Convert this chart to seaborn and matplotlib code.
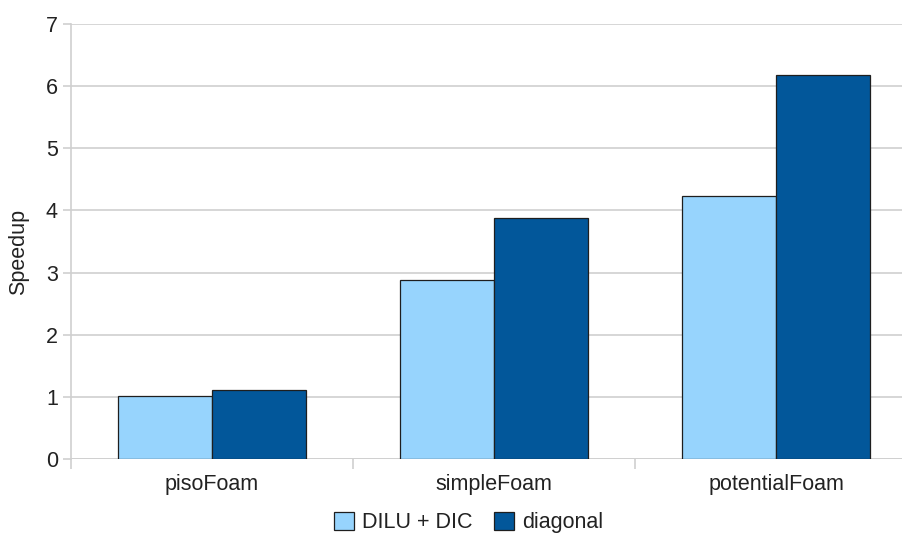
import matplotlib
matplotlib.use("Agg")
import matplotlib.pyplot as plt
from matplotlib.ticker import FixedLocator, NullFormatter
import seaborn as sns
import pandas as pd

solvers = ["pisoFoam", "simpleFoam", "potentialFoam"]
preconditioners = ["DILU + DIC", "diagonal"]
speedup_dilu_dic = [1.01, 2.88, 4.24]
speedup_diagonal = [1.11, 3.88, 6.18]
y_ticks = [0, 1, 2, 3, 4, 5, 6, 7]

df = pd.DataFrame({
    "solver": solvers * 2,
    "preconditioner": [preconditioners[0]] * 3 + [preconditioners[1]] * 3,
    "speedup": speedup_dilu_dic + speedup_diagonal,
})

sns.set_style("white")
plt.rcParams["font.family"] = ["Liberation Sans", "DejaVu Sans"]

fig = plt.figure(figsize=(9.02, 5.34), dpi=100)
ax = fig.add_axes([71 / 902, 1 - 459 / 534, 846 / 902, 435 / 534])

grid_color = "#cfcfcf"
ax.set_axisbelow(True)
ax.yaxis.grid(True, color=grid_color, linewidth=1.2)

sns.barplot(
    data=df, x="solver", y="speedup", hue="preconditioner",
    hue_order=preconditioners,
    palette=["#97d4fd", "#02579a"],
    width=2 / 3, edgecolor="#1e1e1e", linewidth=0.9,
    saturation=1, ax=ax, legend=True,
)

ax.set_xlim(-0.5, 2.5)
ax.set_ylim(0, 7)
ax.set_yticks(y_ticks)
ax.set_xlabel("")
ax.set_ylabel("Speedup", fontsize=15.5, color="#222222")
ax.yaxis.set_label_coords(-0.050, 0.476)

for side in ["top", "right", "bottom"]:
    ax.spines[side].set_visible(False)
ax.spines["left"].set_color(grid_color)
ax.spines["left"].set_linewidth(1.2)
ax.axhline(0, color=grid_color, linewidth=1.2, zorder=0.5)

ax.tick_params(axis="y", which="major", length=6, width=1.2, color=grid_color,
               labelsize=15.5, labelcolor="#222222", direction="out", left=True)
ax.tick_params(axis="x", which="major", length=0, labelsize=15.5,
               labelcolor="#222222", pad=11)
ax.xaxis.set_minor_locator(FixedLocator([-0.5, 0.5, 1.5]))
ax.xaxis.set_minor_formatter(NullFormatter())
ax.tick_params(axis="x", which="minor", length=7, width=1.2, color=grid_color,
               direction="out", bottom=True)

handles, labels = ax.get_legend_handles_labels()
ax.get_legend().remove()
fig.legend(handles, labels, loc="center", bbox_to_anchor=(469 / 902, 0.021),
           ncol=2, frameon=False, fontsize=15.5, handlelength=0.9,
           handleheight=0.9, handletextpad=0.4, columnspacing=1.0,
           labelcolor="#222222")

fig.savefig("out.png", dpi=100)
